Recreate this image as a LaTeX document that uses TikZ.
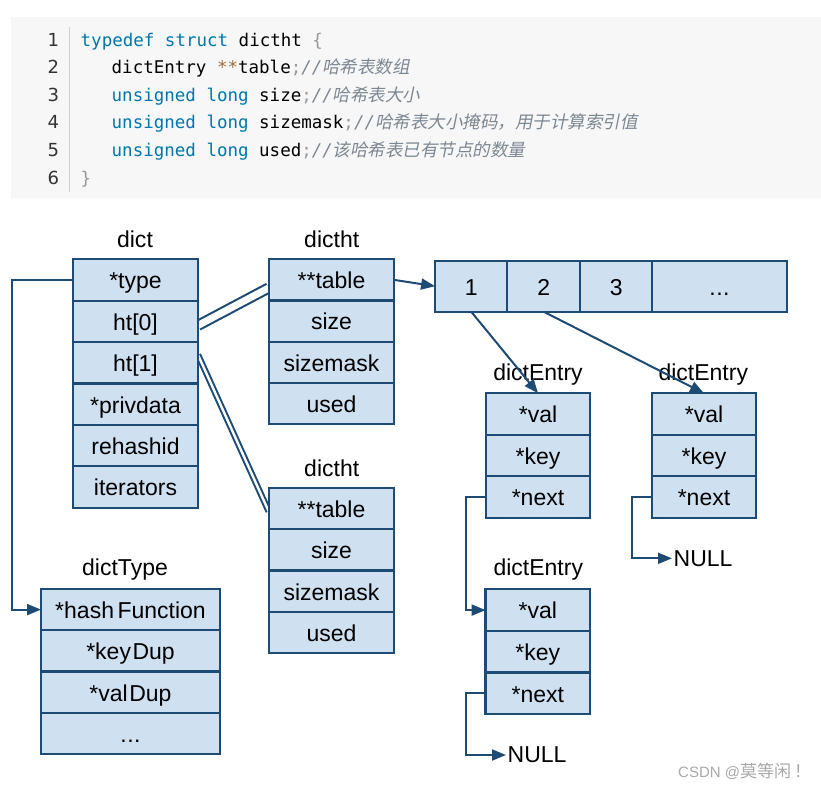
\documentclass[tikz,border=0pt]{standalone}
\usepackage{fontspec}
\setmainfont{Liberation Sans}
\newfontfamily\codefont{DejaVu Sans Mono}
\newfontfamily\numfont{DejaVu Sans}
\newfontfamily\cjkit[FakeSlant=0.2]{Noto Sans CJK SC}
\newfontfamily\cjk{Noto Sans CJK SC}
\usetikzlibrary{arrows.meta}
\definecolor{cellfill}{HTML}{CFE0F1}
\definecolor{bord}{HTML}{1D4B74}
\definecolor{kwc}{HTML}{0077AA}
\definecolor{opc}{HTML}{9A6E3A}
\definecolor{puncc}{HTML}{999999}
\definecolor{cmtc}{HTML}{7D8791}
\definecolor{codebg}{HTML}{F7F7F8}
\definecolor{numc}{HTML}{333333}
\definecolor{sepc}{HTML}{D0D0D0}
\definecolor{wmc}{HTML}{A8A8A8}
\pgfdeclarelayer{bg}\pgfsetlayers{bg,main}
\newcommand\ckw[1]{{\color{kwc}#1}}
\newcommand\cop[1]{{\color{opc}#1}}
\newcommand\cpn[1]{{\color{puncc}#1}}
\newcommand\ccmt[1]{{\color{cmtc}\itshape//\cjkit #1}}
\newcommand\threedots{.\kern0.5pt.\kern0.5pt.}
\tikzset{
  cell/.style={draw=bord, fill=cellfill, line width=2.2pt, inner sep=0pt, outer sep=0pt,
    font=\fontsize{23}{23}\selectfont, text=black, text height=20pt, text depth=2.4pt},
  lbl/.style={font=\fontsize{23}{23}\selectfont, inner sep=0pt, text=black},
  conn/.style={draw=bord, line width=2pt},
  arr/.style={conn, -{Triangle[length=14pt,width=11pt]}},
  dblA/.style={draw=bord, line width=2.1pt, double=white, double distance=7pt},
  dblB/.style={draw=bord, line width=2pt, double=white, double distance=2.4pt},
  codeline/.style={anchor=base west, inner sep=0pt, font=\codefont\fontsize{17.5}{17.5}\selectfont, text=black},
  lnum/.style={anchor=base, inner sep=0pt, font=\numfont\fontsize{18}{18}\selectfont, text=numc},
}
\begin{document}
\begin{tikzpicture}[x=1pt,y=-1pt]
\useasboundingbox (0,0) rectangle (821,788);
% code block text
\node[lnum] (ln1) at (53.3,46) {1};
\node[lnum] (ln2) at (53.3,73.6) {2};
\node[lnum] (ln3) at (53.3,101.2) {3};
\node[lnum] (ln4) at (53.3,128.8) {4};
\node[lnum] (ln5) at (53.3,156.4) {5};
\node[lnum] (ln6) at (53.3,184) {6};
\node[codeline] (c1) at (80.5,46) {\ckw{typedef} \ckw{struct} dictht \cpn{\{}};
\node[codeline] (c2) at (111.5,73.6) {dictEntry \cop{**}table\cpn{;}\ccmt{哈希表数组}};
\node[codeline] (c3) at (111.5,101.2) {\ckw{unsigned} \ckw{long} size\cpn{;}\ccmt{哈希表大小}};
\node[codeline] (c4) at (111.5,128.8) {\ckw{unsigned} \ckw{long} sizemask\cpn{;}\ccmt{哈希表大小掩码，用于计算索引值}};
\node[codeline] (c5) at (111.5,156.4) {\ckw{unsigned} \ckw{long} used\cpn{;}\ccmt{该哈希表已有节点的数量}};
\node[codeline] (c6) at (80.5,184) {\cpn{\}}};
% labels
\node[lbl] (ldict) at (135,239) {dict};
\node[lbl] (lht1) at (331.7,239) {dictht};
\node[lbl] (lht2) at (331.7,468) {dictht};
\node[lbl] (ltype) at (125,570) {dictType};
\node[lbl] (le1) at (538,375) {dictEntry};
\node[lbl] (le2) at (703.3,375) {dictEntry};
\node[lbl] (le3) at (538.3,570) {dictEntry};
% dict
\foreach \t [count=\i] in {*type,{ht[0]},{ht[1]},*privdata,rehashid,iterators}
  \node[cell, minimum width=125pt, minimum height=41.4pt] (d\i) at (135.5,{280+41.4*(\i-1)}) {\t};
% dictht top
\foreach \t [count=\i] in {**table,size,sizemask,used}
  \node[cell, minimum width=125.6pt, minimum height=41.2pt] (h\i) at (331.5,{279.9+41.2*(\i-1)}) {\t};
% dictht bottom
\foreach \t [count=\i] in {**table,size,sizemask,used}
  \node[cell, minimum width=125.6pt, minimum height=41.4pt] (g\i) at (331.5,{508.4+41.4*(\i-1)}) {\t};
% dictType
\node[cell, minimum width=179pt, minimum height=41.3pt] (t1) at (130.5,609.6) {*hash\kern3.5pt Function};
\node[cell, minimum width=179pt, minimum height=41.3pt] (t2) at (130.5,650.9) {*key\kern1.5pt Dup};
\node[cell, minimum width=179pt, minimum height=41.3pt] (t3) at (130.5,692.2) {*val\kern1.5pt Dup};
\node[cell, minimum width=179pt, minimum height=41.3pt] (t4) at (130.5,733.5) {\threedots};
% array
\node[cell, minimum width=72.3pt, minimum height=51pt] (a1) at (471.2,286.2) {1};
\node[cell, minimum width=72.7pt, minimum height=51pt] (a2) at (543.7,286.2) {2};
\node[cell, minimum width=72.3pt, minimum height=51pt] (a3) at (616.2,286.2) {3};
\node[cell, minimum width=134.4pt, minimum height=51pt] (a4) at (719.5,286.2) {\threedots};
% dictEntry boxes
\foreach \t [count=\i] in {*val,*key,*next}
  \node[cell, minimum width=104pt, minimum height=41.5pt] (eA\i) at (538,{414+41.5*(\i-1)}) {\t};
\foreach \t [count=\i] in {*val,*key,*next}
  \node[cell, minimum width=104pt, minimum height=41.5pt] (eB\i) at (704,{414+41.5*(\i-1)}) {\t};
\foreach \t [count=\i] in {*val,*key,*next}
  \node[cell, minimum width=104.5pt, minimum height=41.6pt] (eC\i) at (537.8,{610.1+41.6*(\i-1)}) {\t};
% NULL nodes
\node[lbl, anchor=west, inner sep=1.5pt] (n1) at (672,558.3) {NULL};
\node[lbl, anchor=west, inner sep=1.5pt] (n2) at (506,755) {NULL};
% helper coordinates
\coordinate (cA) at (12,0);
\coordinate (cB) at (466,0);
\coordinate (cC) at (631.7,0);
\coordinate (cD) at (465.7,0);
% background and double connectors
\begin{pgfonlayer}{bg}
\fill[white] (0,0) rectangle (821,788);
\fill[codebg] (10.5,17) rectangle (821,198);
\draw[sepc, line width=1pt] (69.5,27) -- (69.5,192);
\draw[dblA] ([yshift=-4pt]d2.east) -- ([yshift=-8pt]h1.west);
\draw[dblB] ([yshift=8pt]d3.east) -- ([yshift=-3pt]g1.west);
\end{pgfonlayer}
\draw[arr] (d1.west) -- (d1.west -| cA) |- (t1.west);
\draw[arr] (h1.east) -- (a1.west);
\draw[arr] (a1.south) -- (eA1.north);
\draw[arr] (a2.south) -- (eB1.north);
\draw[arr] (eA3.west) -- (eA3.west -| cB) |- (eC1.west);
\draw[arr] (eB3.west) -- (eB3.west -| cC) |- (n1.west);
\draw[arr] (eC3.west) -- (eC3.west -| cD) |- (n2.west);
% watermark
\node[anchor=west, inner sep=0pt, text=wmc, font=\fontsize{15}{15}\selectfont] (wm) at (678,771.7) {CSDN @{\cjk\fontsize{17}{17}\selectfont 莫等闲\kern3pt！}};
\end{tikzpicture}
\end{document}
